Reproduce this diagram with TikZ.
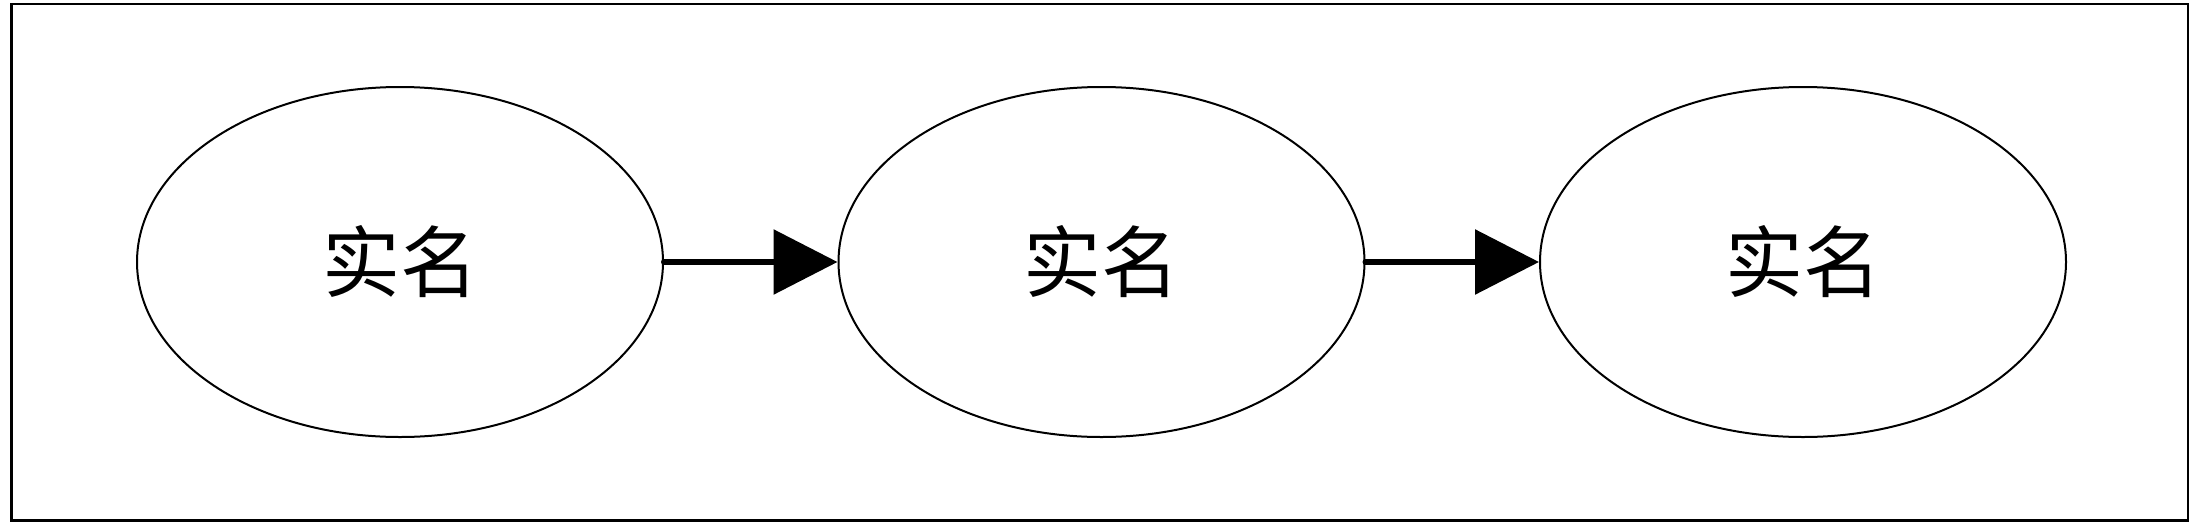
\documentclass[tikz,border=0pt]{standalone}
\usepackage{fontspec}
\newfontfamily\cjk{Noto Sans CJK SC}
\usetikzlibrary{arrows.meta,shapes.geometric}
\begin{document}
\begin{tikzpicture}[x=1pt,y=-1pt,
  stnode/.style={draw,line width=2pt,ellipse,minimum width=526pt,minimum height=350pt,inner sep=0pt,font=\cjk\fontsize{78pt}{80pt}\selectfont},
  link/.style={line width=6pt,line cap=round,-{Triangle[length=64pt,width=64pt]}}]
\useasboundingbox (0,0) rectangle (2200,525);
\draw[line width=2.5pt] (11.5,4) rectangle (2188,520.5) coordinate (frame);
\node[stnode] (a) at (400,262) {实名};
\node[stnode] (b) at (1101.5,262) {实名};
\node[stnode] (c) at (1803,262) {实名};
\draw[link] (a.east) -- (b.west);
\draw[link] (b.east) -- (c.west);
\end{tikzpicture}
\end{document}
